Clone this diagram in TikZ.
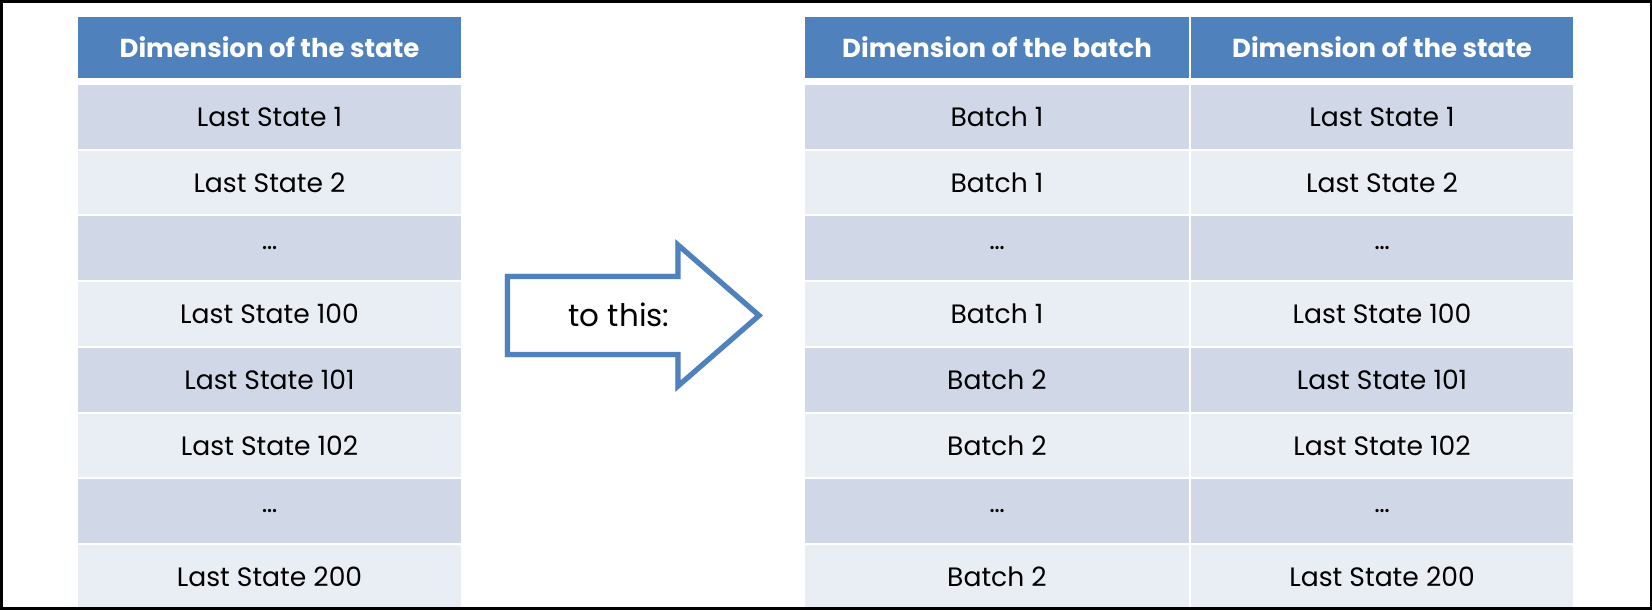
\documentclass[tikz,border=0pt]{standalone}
\usepackage{fontspec}
\setmainfont{Poppins}
\definecolor{hdr}{HTML}{4F81BD}
\definecolor{bandA}{HTML}{D0D8E8}
\definecolor{bandB}{HTML}{E9EDF4}
\begin{document}
\begin{tikzpicture}[x=0.5pt,y=-0.5pt,
  cell/.style={inner sep=0pt,outer sep=0pt,minimum height=31.85pt,
    font=\fontsize{13.3}{15}\selectfont,text=black},
  hcell/.style={inner sep=0pt,outer sep=0pt,minimum height=30.5pt,fill=hdr,
    font=\fontsize{13}{15}\selectfont\bfseries,text=white},
  bigarrow/.style={draw=hdr,line width=2.6pt,fill=white},
  arrowshadow/.style={draw=black!12,line width=2.8pt},
  frame/.style={draw=black,line width=1.5pt}]
\useasboundingbox (0,0) rectangle (1652,610);
\fill[white] (0,0) rectangle (1652,610);
% headers
\node[hcell,minimum width=191.5pt] (LH) at (269.5,47.5) {Dimension of the state};
\node[hcell,minimum width=192pt] (BH) at (997,47.5) {Dimension of the batch};
\node[hcell,minimum width=191pt] (SH) at (1382,47.5) {Dimension of the state};
% rows
\foreach \i/\yy/\bg/\ta/\tb/\tc in {
  1/116.85/bandA/Last State 1/Batch 1/Last State 1,
  2/182.55/bandB/Last State 2/Batch 1/Last State 2,
  3/248.25/bandA/…/…/…,
  4/313.95/bandB/Last State 100/Batch 1/Last State 100,
  5/379.65/bandA/Last State 101/Batch 2/Last State 101,
  6/445.35/bandB/Last State 102/Batch 2/Last State 102,
  7/511.05/bandA/…/…/…,
  8/576.75/bandB/Last State 200/Batch 2/Last State 200}
{
  \node[cell,fill=\bg,minimum width=191.5pt] (L\i) at (269.5,\yy) {\ta};
  \node[cell,fill=\bg,minimum width=192pt] (B\i) at (997,\yy) {\tb};
  \node[cell,fill=\bg,minimum width=191pt] (S\i) at (1382,\yy) {\tc};
}
% arrow
\coordinate (a1) at (507.5,276.5);
\coordinate (a2) at (678,276.5);
\coordinate (a3) at (678,245);
\coordinate (a4) at (759,315.5);
\coordinate (a5) at (678,386);
\coordinate (a6) at (678,354.5);
\coordinate (a7) at (507.5,354.5);
\begin{scope}[shift={(2,3)}]
\draw[arrowshadow] (a1) -- (a2) -- (a3) -- (a4) -- (a5) -- (a6) -- (a7) -- cycle;
\end{scope}
\draw[bigarrow] (a1) -- (a2) -- (a3) -- (a4) -- (a5) -- (a6) -- (a7) -- cycle;
\node[inner sep=0pt,font=\fontsize{15.5}{18}\selectfont] (T) at (619,315) {to this:};
% frame
\draw[frame] (1,1.5) rectangle (1651,608.5);
\end{tikzpicture}
\end{document}
